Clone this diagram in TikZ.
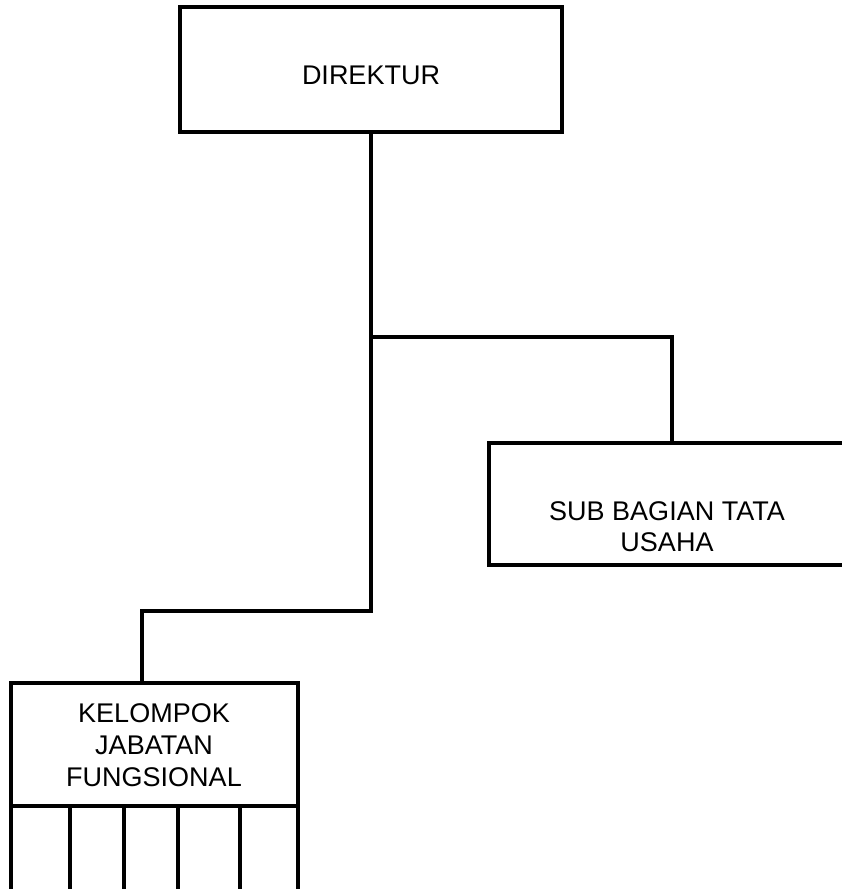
\documentclass[tikz,border=0pt]{standalone}
\usepackage{fontspec}
\setmainfont{Liberation Sans}
\usetikzlibrary{calc}
\begin{document}
\begin{tikzpicture}[x=1pt,y=-1pt,
  box/.style={draw,line width=4pt,rectangle,inner sep=0pt,outer sep=0pt},
  lbl/.style={align=center,font=\fontsize{27}{31}\selectfont,inner sep=0pt},
  conn/.style={line width=4pt,line join=miter}]
\useasboundingbox (0,0) rectangle (842,889);
\clip (0,0) rectangle (842,889);
% Direktur
\node[box,minimum width=382pt,minimum height=125pt] (dir) at (371,69.5) {};
\node[lbl] (dirt) at (371,75) {DIREKTUR};
% Sub bagian
\node[box,minimum width=420pt,minimum height=122pt] (sub) at (699,504) {};
\node[lbl] (subt) at (667,527) {SUB BAGIAN TATA\\USAHA};
% Kelompok
\node[box,minimum width=287pt,minimum height=123pt] (kjf) at (154,744.5) {};
\node[lbl,font=\fontsize{27}{32}\selectfont] (kjft) at (154,745) {KELOMPOK\\JABATAN\\FUNGSIONAL};
\node[box,minimum width=287pt,minimum height=100pt] (cells) at (154,856) {};
\foreach \x in {70,124,178,240}{
  \draw[conn] (\x,806) -- (\x,900);
}
% connectors
\coordinate (j1) at (371,337);
\coordinate (j2) at (371,611);
\coordinate (s1) at (672,337);
\coordinate (k1) at (142,611);
\draw[conn] (dir.south) -- (j2) -- (k1) -- (k1 |- kjf.north);
\draw[conn] (j1) -- (s1) -- (s1 |- sub.north);
\end{tikzpicture}
\end{document}
